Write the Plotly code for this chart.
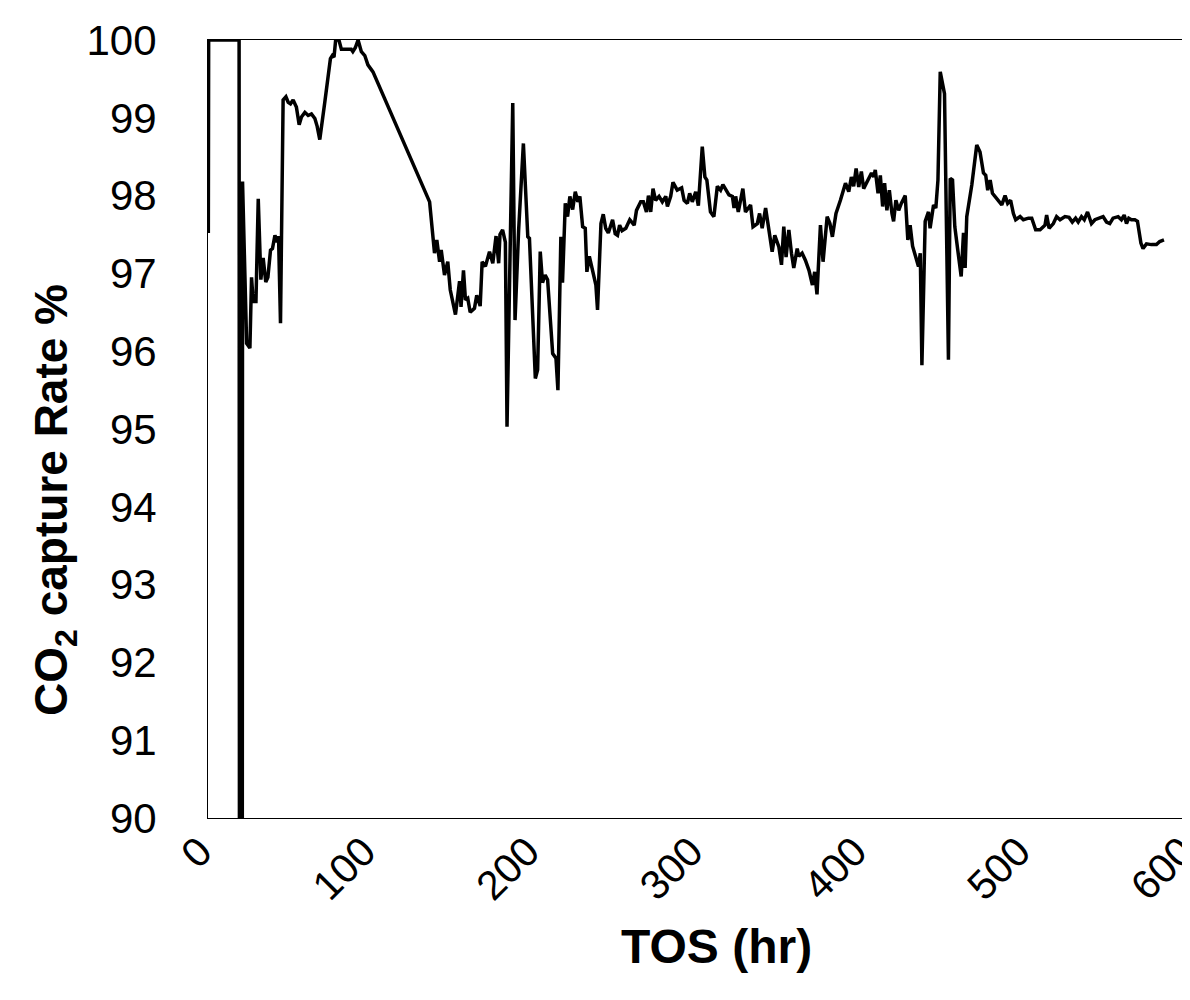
import plotly.graph_objects as go

# TOS (hr)
tos = [
    0.2, 0.4, 19.0, 19.4, 20.8, 21.1, 23.6, 25.6, 26.6, 27.6, 29.3, 30.7, 32.3, 33.7, 35.3, 36.6,
    38.2, 39.4, 40.9, 42.3, 43.1, 44.3, 45.9, 47.6, 49.0, 50.4, 52.0, 54.0, 55.7, 57.1,
    59.2, 61.2, 63.2, 65.3, 66.7, 68.3, 71.3, 74.8, 76.0, 77.0, 78.0, 80.0, 81.5, 84.5,
    87.5, 88.5, 90.0, 91.7, 93.7, 95.8, 97.7, 100.8, 133.3, 135.4, 138.4, 139.8, 141.5,
    142.5, 144.5, 146.5, 148.0, 151.2, 153.7, 154.6, 156.1, 157.3, 158.7, 160.2, 162.8,
    164.2, 166.3, 167.5, 169.5, 172.0, 174.0, 176.0, 177.6, 178.4, 180.0, 181.7, 182.7,
    186.2, 187.6, 189.8, 192.7, 195.4, 196.4, 200.0, 201.4, 203.0, 204.4, 206.0, 207.5,
    210.6, 212.6, 213.8, 215.6, 216.6, 218.3, 219.7, 221.1, 222.8, 224.4, 226.0, 227.2,
    228.9, 230.5, 231.5, 233.0, 235.6, 237.0, 238.0, 240.1, 241.5, 243.0, 244.6, 247.2,
    248.8, 250.2, 251.5, 253.0, 255.3, 257.7, 260.4, 261.8, 264.4, 266.0, 267.9, 269.1,
    270.5, 271.9, 273.5, 275.6, 277.6, 279.7, 280.7, 282.7, 284.1, 286.7, 289.4, 290.9,
    292.9, 294.3, 295.9, 298.0, 299.6, 302.0, 303.6, 304.8, 307.0, 309.1, 311.2, 313.2,
    314.6, 316.3, 318.3, 320.4, 321.4, 322.4, 324.0, 325.4, 326.8, 328.4, 331.5, 333.0,
    335.6, 337.0, 338.6, 340.7, 342.7, 344.7, 346.3, 348.8, 350.4, 351.8, 353.2, 354.9,
    356.5, 357.9, 360.0, 361.0, 363.0, 365.0, 367.2, 369.3, 370.7, 372.1, 374.2, 375.8,
    378.3, 380.0, 381.5, 383.7, 386.4, 389.5, 391.5, 393.1, 394.5, 396.0, 397.6, 399.2,
    400.6, 402.6, 405.4, 406.8, 407.7, 409.4, 410.8, 412.2, 413.4, 414.8, 416.3, 417.9,
    418.9, 420.3, 422.0, 423.6, 426.0, 427.6, 429.0, 430.5, 432.5, 434.1, 435.2, 436.2,
    438.2, 440.2, 441.2, 443.3, 444.7, 446.0, 447.4, 450.0, 452.4, 453.5, 454.9, 456.3,
    458.1, 460.2, 461.6, 462.6, 463.6, 466.7, 469.7, 471.7, 473.8, 475.2, 476.4, 477.9,
    479.3, 482.9, 485.0, 487.0, 488.6, 490.4, 492.1, 493.5, 496.2, 498.2, 501.3, 503.3,
    505.7, 508.4, 511.4, 512.4, 513.9, 516.5, 518.5, 520.6, 523.6, 526.1, 528.1, 530.1,
    531.7, 533.7, 535.4, 537.4, 539.8, 541.9, 543.9, 546.9, 549.0, 551.0, 553.0, 556.1,
    558.1, 559.8, 561.2, 562.6, 564.2, 566.3, 567.9, 570.0, 571.3, 573.4, 576.4, 579.5,
    581.5, 584.1,
]

# CO2 capture rate (%)
capture_rate = [
    97.52, 100.0, 100.0, 80.0, 80.0, 98.18, 96.1, 96.04, 96.95, 96.64, 96.64, 97.96, 96.92, 97.2, 96.89, 96.95,
    97.3, 97.32, 97.49, 97.4, 97.48, 96.36, 99.23, 99.27, 99.2, 99.18, 99.23, 99.14, 98.91, 99.01,
    99.07, 99.03, 99.05, 98.99, 98.89, 98.72, 99.19, 99.76, 99.8, 99.78, 100.0, 100.0, 99.88, 99.88,
    99.88, 99.85, 99.9, 100.0, 99.85, 99.8, 99.68, 99.59, 98.03, 97.92, 97.26, 97.43, 97.15,
    97.3, 96.98, 97.15, 96.79, 96.47, 96.9, 96.57, 97.04, 96.66, 96.68, 96.5, 96.55,
    96.72, 96.58, 97.15, 97.09, 97.28, 97.13, 97.48, 97.13, 97.5, 97.56, 97.4, 95.03,
    99.19, 96.4, 97.56, 98.67, 97.47, 97.45, 95.65, 95.76, 97.28, 96.88, 96.98, 96.92,
    95.97, 95.91, 95.5, 97.47, 96.88, 97.9, 97.73, 97.99, 97.82, 98.05, 97.92, 97.99,
    97.6, 97.58, 97.02, 97.22, 96.96, 96.85, 96.53, 97.64, 97.76, 97.58, 97.52, 97.69,
    97.51, 97.49, 97.62, 97.55, 97.58, 97.69, 97.62, 97.81, 97.92, 97.92, 97.79, 98.0,
    97.79, 98.09, 97.94, 97.99, 97.92, 97.99, 97.86, 97.99, 98.17, 98.07, 98.1, 97.94,
    97.9, 98.03, 97.92, 98.05, 97.87, 98.63, 98.24, 98.2, 97.79, 97.73, 98.12, 98.07,
    98.14, 98.07, 98.01, 97.99, 97.84, 97.99, 97.79, 97.94, 98.09, 97.79, 97.88, 97.6,
    97.64, 97.77, 97.58, 97.84, 97.52, 97.28, 97.49, 97.34, 97.11, 97.6, 97.21, 97.56,
    97.26, 97.07, 97.32, 97.22, 97.26, 97.17, 97.04, 96.85, 97.02, 96.73, 97.62, 97.15,
    97.73, 97.64, 97.47, 97.77, 97.94, 98.16, 98.05, 98.24, 98.12, 98.35, 98.11, 98.31,
    98.09, 98.18, 98.29, 98.24, 98.33, 98.03, 98.26, 97.86, 98.16, 97.81, 98.07, 97.77,
    97.67, 97.94, 97.81, 97.9, 98.0, 97.43, 97.62, 97.35, 97.19, 97.09, 97.26, 95.82,
    97.67, 97.79, 97.58, 97.88, 97.84, 98.2, 99.59, 99.31, 95.89, 98.22, 98.2, 97.6,
    97.3, 96.96, 97.52, 97.07, 97.73, 98.14, 98.65, 98.56, 98.29, 98.26, 98.07, 98.2,
    98.03, 97.94, 97.88, 98.0, 97.9, 97.94, 97.77, 97.69, 97.73, 97.69, 97.71, 97.71,
    97.56, 97.56, 97.62, 97.75, 97.58, 97.64, 97.73, 97.69, 97.73, 97.72, 97.66, 97.71,
    97.66, 97.73, 97.69, 97.79, 97.64, 97.69, 97.71, 97.73, 97.66, 97.64, 97.71, 97.73,
    97.69, 97.75, 97.64, 97.71, 97.69, 97.69, 97.67, 97.39, 97.32, 97.38, 97.37, 97.37,
    97.41, 97.43,
]

x_ticks = [0, 100, 200, 300, 400, 500, 600]
y_ticks = [90, 91, 92, 93, 94, 95, 96, 97, 98, 99, 100]

FONT = "Arial, 'Liberation Sans', sans-serif"

fig = go.Figure()
fig.add_trace(go.Scatter(
    x=tos, y=capture_rate, mode="lines",
    line=dict(color="black", width=3.5),
    showlegend=False, hoverinfo="x+y",
))

fig.update_layout(
    width=1182, height=984,
    margin=dict(l=200, r=0, t=32, b=174),
    paper_bgcolor="white", plot_bgcolor="white",
    font=dict(family=FONT, color="black"),
    xaxis=dict(
        range=[0, 600], tickvals=x_ticks, ticktext=[str(v) for v in x_ticks],
        tickangle=-45, tickfont=dict(size=41, family=FONT, color="black"),
        showgrid=False, zeroline=False, showline=True, linecolor="black", linewidth=1,
        mirror=True, ticks="", ticklabelstandoff=-8, ticklabelshift=-8,
        ticklabeloverflow="allow", automargin=False,
    ),
    yaxis=dict(
        range=[90, 100], tickvals=y_ticks, ticktext=[str(v) for v in y_ticks],
        tickfont=dict(size=42, family=FONT, color="black"),
        showgrid=False, zeroline=False, showline=True, linecolor="black", linewidth=1,
        ticks="", ticklabelstandoff=42, automargin=False,
    ),
    annotations=[
        dict(
            text="<b>TOS (hr)</b>", xref="paper", yref="paper",
            x=(716 - 208) / 982, y=(818 - 946) / 778, xanchor="center", yanchor="middle",
            showarrow=False, font=dict(size=48, family=FONT, color="black"),
        ),
        dict(
            text="<b>CO<sub>2</sub> capture Rate %</b>", xref="paper", yref="paper",
            x=(54 - 208) / 982, y=(818 - 500) / 778, xanchor="center", yanchor="middle",
            textangle=-90, showarrow=False, font=dict(size=46, family=FONT, color="black"),
        ),
    ],
)

fig.write_html("out.html")
